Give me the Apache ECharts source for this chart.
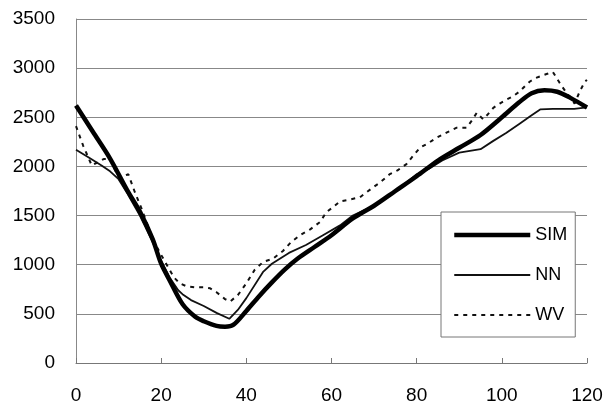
<!DOCTYPE html>
<html>
<head>
<meta charset="utf-8">
<script src="https://cdn.jsdelivr.net/npm/echarts@6/dist/echarts.min.js"></script>
<style>
  html, body { margin: 0; padding: 0; background: #fff; }
  #chart { width: 607px; height: 405px; }
</style>
</head>
<body>
<div id="chart"></div>
<script>
// X ticks and Y ticks
const xTicks = [0, 20, 40, 60, 80, 100, 120];
const yTicks = [0, 500, 1000, 1500, 2000, 2500, 3000, 3500];

// SIM series
const simX = [0, 4, 8, 12, 15, 18, 20, 22, 25, 28, 30, 33, 35, 37, 40, 43, 46, 49, 52, 56, 60, 65, 70, 75, 80, 85, 90, 95, 100, 104, 107, 110, 113, 116, 120];
const simY = [2620, 2350, 2080, 1760, 1540, 1260, 1010, 840, 600, 470, 425, 378, 370, 390, 530, 680, 820, 950, 1060, 1180, 1300, 1470, 1600, 1750, 1900, 2060, 2190, 2320, 2500, 2650, 2745, 2775, 2760, 2700, 2600];

// NN series
const nnX = [0, 3, 6, 8, 10, 12, 15, 18, 20, 22, 24, 25, 27, 30, 33, 36, 38, 40, 44, 46, 50, 54, 58, 62, 65, 68, 72, 76, 80, 83, 86, 90, 95, 98, 101, 104, 107, 109, 112, 117, 120];
const nnY = [2170, 2090, 2010, 1950, 1870, 1730, 1500, 1230, 1040, 870, 740, 700, 640, 580, 510, 450, 540, 660, 930, 1010, 1120, 1200, 1300, 1400, 1500, 1560, 1650, 1780, 1920, 1980, 2060, 2140, 2175, 2260, 2340, 2430, 2520, 2580, 2585, 2585, 2600];

// WV series
const wvX = [0, 1.7, 3.7, 5, 6.5, 8, 9, 10, 11, 12.3, 13.8, 15.4, 17, 18.5, 20, 21.3, 23, 24.4, 26, 28, 30, 31.5, 33, 35, 36.2, 38, 40, 42, 44, 46.3, 48.6, 50.5, 52.6, 55, 57.3, 58.8, 60.5, 62, 64, 66.7, 68, 69.8, 71.5, 73.7, 75.5, 77.6, 79, 80.8, 82.5, 84.7, 87, 89.4, 91.7, 93, 94.1, 95.6, 96.5, 98, 99.5, 101.1, 102.5, 104.2, 105.5, 106.6, 108, 108.9, 110.5, 112, 113.6, 115.2, 117.1, 118.3, 119.5, 120];
const wvY = [2410, 2210, 2010, 2040, 2075, 2075, 1980, 1890, 1900, 1920, 1740, 1570, 1380, 1220, 1100, 1000, 870, 810, 780, 770, 770, 760, 720, 650, 626, 690, 811, 950, 1030, 1063, 1140, 1230, 1300, 1360, 1434, 1535, 1590, 1645, 1660, 1687, 1730, 1788, 1840, 1922, 1960, 2023, 2100, 2192, 2230, 2293, 2343, 2394, 2394, 2470, 2545, 2480, 2520, 2596, 2640, 2680, 2710, 2763, 2820, 2864, 2900, 2915, 2940, 2960, 2848, 2747, 2640, 2763, 2864, 2880];

const zip = (xs, ys) => xs.map((x, i) => [x, ys[i]]);

const labelFont = { color: '#000', fontSize: 19, fontFamily: 'Liberation Sans, Arial, sans-serif' };
const plain = v => String(v);

// line styles shared by the series and their legend keys
const simLine = { color: '#000', width: 4.5 };
const nnLine = { color: '#111', width: 1.8 };
const wvLine = { color: '#111', width: 2, type: [4, 5] };

const chart = echarts.init(document.getElementById('chart'), null, { renderer: 'canvas' });
chart.setOption({
  animation: false,
  backgroundColor: '#fff',
  grid: { left: 76, right: 20, top: 19, bottom: 40, containLabel: false },
  xAxis: {
    type: 'value',
    min: xTicks[0],
    max: xTicks[xTicks.length - 1],
    interval: 20,
    axisLine: { show: true, lineStyle: { color: '#777', width: 1 } },
    axisTick: { show: true, inside: true, length: 5, lineStyle: { color: '#777' } },
    splitLine: { show: false },
    axisLabel: Object.assign({ margin: 23, formatter: plain }, labelFont)
  },
  yAxis: {
    type: 'value',
    min: yTicks[0],
    max: yTicks[yTicks.length - 1],
    interval: 500,
    axisLine: { show: true, lineStyle: { color: '#888', width: 1 } },
    axisTick: { show: false },
    splitLine: { show: true, lineStyle: { color: '#888', width: 1 } },
    axisLabel: Object.assign({ margin: 21, formatter: plain }, labelFont)
  },
  legend: {
    orient: 'vertical',
    left: 441,
    top: 212,
    width: 136,
    backgroundColor: '#fff',
    borderColor: '#777',
    borderWidth: 1,
    padding: [14, 8, 13, 11],
    itemWidth: 76,
    itemHeight: 14,
    itemGap: 22,
    // keep only the line in each key, no marker dot
    itemStyle: { opacity: 0, color: 'rgba(0,0,0,0)', borderWidth: 0 },
    textStyle: { color: '#000', fontSize: 18, fontFamily: 'Liberation Sans, Arial, sans-serif' },
    data: [
      { name: 'SIM', lineStyle: simLine },
      { name: 'NN', lineStyle: nnLine },
      { name: 'WV', lineStyle: wvLine }
    ]
  },
  series: [
    {
      name: 'WV', type: 'line', symbol: 'none', z: 2,
      data: zip(wvX, wvY),
      lineStyle: wvLine,
      itemStyle: { color: '#111' }
    },
    {
      name: 'NN', type: 'line', symbol: 'none', z: 3,
      data: zip(nnX, nnY),
      lineStyle: nnLine,
      itemStyle: { color: '#111' }
    },
    {
      name: 'SIM', type: 'line', symbol: 'none', smooth: 0.3, z: 4,
      data: zip(simX, simY),
      lineStyle: simLine,
      itemStyle: { color: '#000' }
    }
  ]
});
</script>
</body>
</html>
